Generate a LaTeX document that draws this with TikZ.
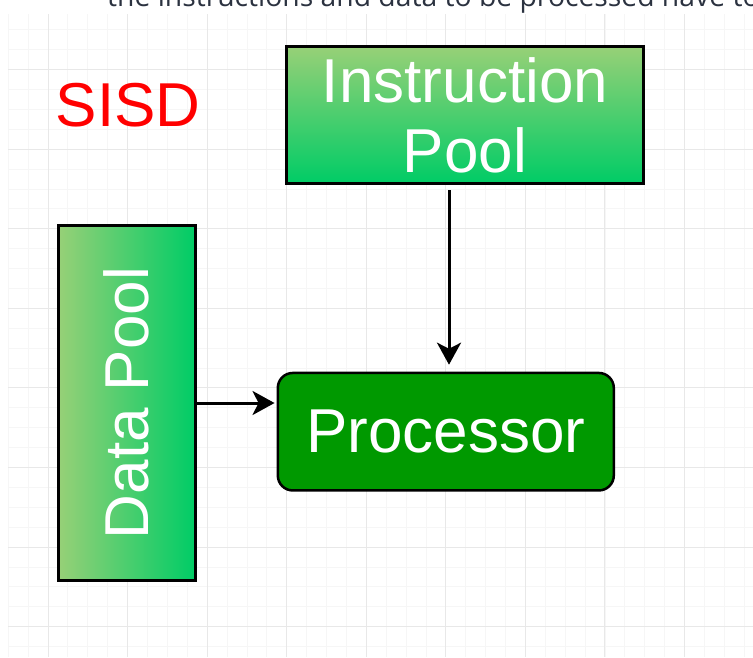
\documentclass[tikz,border=0pt]{standalone}
\usepackage{fontspec}
\newfontfamily\lsans{Liberation Sans}
\newfontfamily\osans{Open Sans}
\usetikzlibrary{arrows.meta,calc}
\definecolor{gLight}{HTML}{97D077}
\definecolor{gDark}{HTML}{00CC66}
\definecolor{procGreen}{HTML}{009900}
\definecolor{gridMinor}{HTML}{F6F6F6}
\definecolor{gridMajor}{HTML}{E8E8E8}
\definecolor{topText}{HTML}{2B3240}
\begin{document}
\begin{tikzpicture}[x=1pt,y=-1pt,
  box/.style={draw=black, line width=3pt, inner sep=0pt, text=white, font=\lsans\fontsize{62}{70}\selectfont},
  arr/.style={line width=3pt, -{Stealth[length=22pt,width=24pt,inset=6pt]}},
  minorline/.style={gridMinor, line width=0.8pt},
  majorline/.style={gridMajor, line width=1pt}]
\useasboundingbox (0,0) rectangle (753,657);
\clip (0,0) rectangle (753,657);
% grid
\foreach \i in {0,...,37} {
  \pgfmathsetmacro\xx{8.2+19.893*\i}
  \draw[minorline] (\xx,14) -- (\xx,657);
}
\foreach \k in {-1,...,30} {
  \pgfmathsetmacro\yy{626.6-19.893*\k}
  \draw[minorline] (8,\yy) -- (753,\yy);
}
\foreach \i in {0,...,9} {
  \pgfmathsetmacro\xx{48+79.57*\i}
  \draw[majorline] (\xx,14) -- (\xx,657);
}
\foreach \m in {0,...,7} {
  \pgfmathsetmacro\yy{626.6-79.57*\m}
  \draw[majorline] (8,\yy) -- (753,\yy);
}
% top cut-off text
\node[font=\osans\fontsize{28.3}{32}\selectfont, text=topText, anchor=base west, inner sep=0pt] (toptext) at (107,6) {the instructions and data to be processed have to};
% nodes
\node[box, minimum width=357pt, minimum height=137pt, top color=gLight, bottom color=gDark, align=center] (ip) at (465,115) {Instruction\\Pool};
\node[box, minimum width=137pt, minimum height=355pt, left color=gLight, right color=gDark] (dp) at (126.7,403) {\rotatebox{90}{Data Pool}};
\node[box, line width=2.5pt, rounded corners=15pt, fill=procGreen, minimum width=336pt, minimum height=117.5pt] (proc) at (445.8,431.7) {Processor};
\node[text=red, font=\lsans\fontsize{62}{70}\selectfont, inner sep=0pt] (sisd) at (128,105.5) {SISD};
% connectors
\coordinate (ax) at (449,0);
\draw[arr, shorten <=5pt, shorten >=7pt] (ip.south -| ax) -- (proc.north -| ax);
\draw[arr, shorten >=2pt] (dp.east) -- (dp.east -| proc.west);
\end{tikzpicture}
\end{document}
